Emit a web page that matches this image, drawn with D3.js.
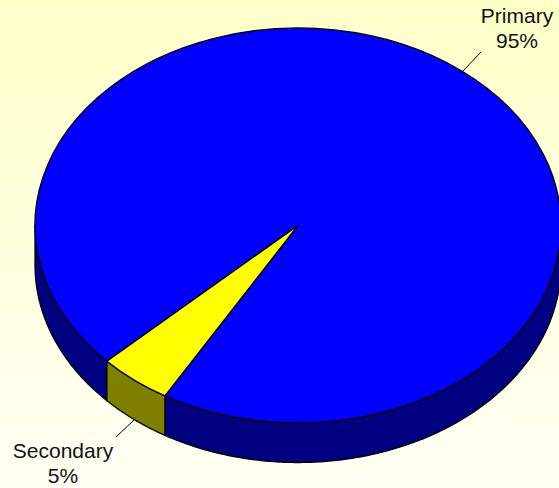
<!DOCTYPE html>
<html>
<head>
<meta charset="utf-8">
<script src="https://cdn.jsdelivr.net/npm/d3@7"></script>
<style>
html,body{margin:0;padding:0;background:#fffff2;overflow:hidden}
svg{display:block}
text{font-family:"Liberation Sans",Arial,sans-serif;font-size:21px;fill:#111}
</style>
</head>
<body>
<script>
const categories = ["Primary", "Secondary"];
const values = [95.5, 4.5];
const percentLabels = ["95%", "5%"];
const topColors = ["#0000ff", "#ffff00"];
const wallColors = ["#000080", "#808000"];

const W = 559, H = 488;
const cx = 298, cy = 225.5, rx = 263, ry = 197.5, depth = 39.5;
const startDeg = 226.6;

const svg = d3.select("body").append("svg").attr("width", W).attr("height", H);
const grad = svg.append("defs").append("linearGradient")
  .attr("id", "bg").attr("x1", 0).attr("x2", 0).attr("y1", 0).attr("y2", 1);
grad.append("stop").attr("offset", 0).attr("stop-color", "#ffffc8");
grad.append("stop").attr("offset", 1).attr("stop-color", "#fffff4");
svg.append("rect").attr("width", W).attr("height", H).attr("fill", "url(#bg)");

const start = startDeg * Math.PI / 180;
const pie = d3.pie().sort(null).startAngle(start).endAngle(start + 2 * Math.PI);
const slices = pie(values).map((d, i) => ({...d, i}));

const px = a => cx + rx * Math.sin(a);
const py = a => cy - ry * Math.cos(a);

// Walls: the front half of the rim (angles from 90deg to 270deg, modulo full turns)
const line = d3.line();
function wallPath(a0, a1) {
  const n = Math.max(2, Math.ceil((a1 - a0) / 0.01));
  const angs = d3.range(n + 1).map(k => a0 + (a1 - a0) * k / n);
  const pts = angs.map(a => [px(a), py(a)])
    .concat(angs.slice().reverse().map(a => [px(a), py(a) + depth]));
  return line(pts) + "Z";
}
const TAU = 2 * Math.PI;
slices.forEach(s => {
  for (let k = -1; k <= 2; k++) {
    const lo = Math.max(s.startAngle, Math.PI / 2 + k * TAU);
    const hi = Math.min(s.endAngle, 3 * Math.PI / 2 + k * TAU);
    if (hi > lo) {
      svg.append("path").attr("d", wallPath(lo, hi))
        .attr("fill", wallColors[s.i]).attr("stroke", "#000").attr("stroke-width", 1.3)
        .attr("stroke-linejoin", "round");
    }
  }
});

// Top faces
const arc = d3.arc().innerRadius(0).outerRadius(rx);
svg.append("g").attr("transform", `translate(${cx},${cy}) scale(1,${ry / rx})`)
  .selectAll("path").data(slices).join("path")
  .attr("d", arc)
  .attr("fill", d => topColors[d.i])
  .attr("stroke", "#000").attr("stroke-width", 1.3)
  .attr("vector-effect", "non-scaling-stroke")
  .attr("stroke-linejoin", "round");

// Labels and leader lines
const labelPos = [
  {x: 517, y: [23, 48], leader: [[463, 71], [481, 52]]},
  {x: 63, y: [458, 483], leader: [[134, 420], [116, 437]]}
];
labelPos.forEach((p, i) => {
  svg.append("path").attr("d", line(p.leader)).attr("stroke", "#000").attr("stroke-width", 1).attr("fill", "none");
  svg.append("text").attr("x", p.x).attr("y", p.y[0]).attr("text-anchor", "middle").text(categories[i]);
  svg.append("text").attr("x", p.x).attr("y", p.y[1]).attr("text-anchor", "middle").text(percentLabels[i]);
});
</script>
</body>
</html>
